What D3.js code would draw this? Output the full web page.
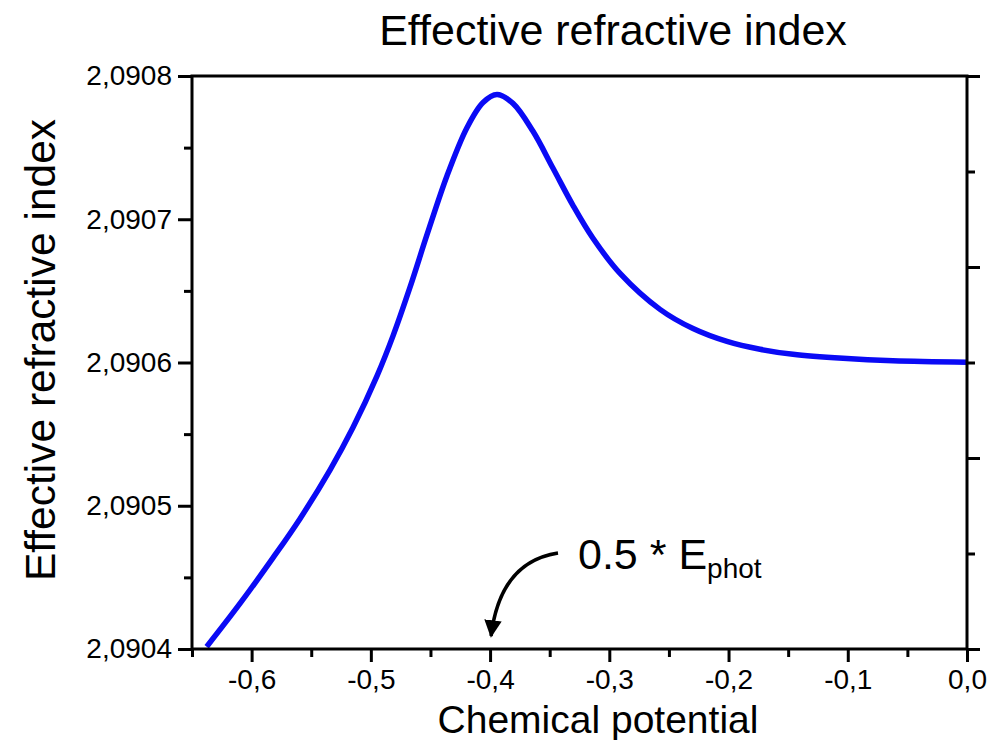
<!DOCTYPE html>
<html>
<head>
<meta charset="utf-8">
<script src="https://cdn.jsdelivr.net/npm/d3@7"></script>
<style>
  body { margin: 0; background: #fff; }
  svg { font-family: "Liberation Sans", Arial, sans-serif; }
</style>
</head>
<body>
<svg id="chart" width="990" height="740"></svg>
<script>
// values
const potential = [-0.6377, -0.6097, -0.5821, -0.5594, -0.5343, -0.5150, -0.4948, -0.4814, -0.4672, -0.4529,
  -0.4361, -0.4194, -0.4059, -0.3942, -0.3808, -0.3640, -0.3472, -0.3305, -0.3137, -0.2910,
  -0.2575, -0.2298, -0.2013, -0.1736, -0.1459, -0.1040, -0.0621, 0.0];
const index = [2.0904016, 2.0904318, 2.0904636, 2.0904910, 2.0905249, 2.0905546, 2.0905907, 2.0906186, 2.0906524, 2.0906892,
  2.0907304, 2.0907639, 2.0907815, 2.0907871, 2.0907809, 2.0907614, 2.0907356, 2.0907097, 2.0906867, 2.0906622,
  2.0906371, 2.0906237, 2.0906147, 2.0906092, 2.0906057, 2.0906029, 2.0906012, 2.0906002];
const xMajor = [-0.6, -0.5, -0.4, -0.3, -0.2, -0.1, 0.0];
const xMinor = [-0.65, -0.55, -0.45, -0.35, -0.25, -0.15, -0.05];
const yMajor = [2.0904, 2.0905, 2.0906, 2.0907, 2.0908];
const yMinor = [2.09045, 2.09055, 2.09065, 2.09075];

const margin = {top: 76, right: 23, bottom: 91, left: 192};
const width = 990 - margin.left - margin.right,
      height = 740 - margin.top - margin.bottom;

const svg = d3.select("#chart");
const g = svg.append("g").attr("transform", `translate(${margin.left},${margin.top})`);

const x = d3.scaleLinear().domain([-0.65, 0]).range([0, width]);
const y = d3.scaleLinear().domain([2.0904, 2.0908]).range([height, 0]);

const loc = d3.formatLocale({decimal: ",", thousands: ".", grouping: [3], currency: ["", ""], minus: "-"});
const fx = loc.format(".1f"), fy = loc.format(".4f");

g.append("clipPath").attr("id", "clip")
  .append("rect").attr("width", width).attr("height", height);

// curve
const line = d3.line()
  .x((d, i) => x(potential[i]))
  .y((d, i) => y(index[i]))
  .curve(d3.curveCatmullRom.alpha(0.5));
g.append("path")
  .datum(potential)
  .attr("clip-path", "url(#clip)")
  .attr("d", line)
  .attr("fill", "none")
  .attr("stroke", "#0a0af5")
  .attr("stroke-width", 5.5);

function styleAxis(sel) {
  sel.select(".domain").remove();
  sel.selectAll("line").attr("stroke", "#000").attr("stroke-width", 3);
  sel.selectAll("text").attr("font-size", 28).attr("fill", "#000");
}

// bottom
g.append("g").attr("transform", `translate(0,${height})`)
  .call(d3.axisBottom(x).tickValues(xMinor).tickSize(8).tickFormat(""))
  .call(styleAxis);
g.append("g").attr("transform", `translate(0,${height})`)
  .call(d3.axisBottom(x).tickValues(xMajor).tickSize(13).tickPadding(7).tickFormat(fx))
  .call(styleAxis);

// left
g.append("g")
  .call(d3.axisLeft(y).tickValues(yMinor).tickSize(8).tickFormat(""))
  .call(styleAxis);
g.append("g")
  .call(d3.axisLeft(y).tickValues(yMajor).tickSize(14).tickPadding(6).tickFormat(fy))
  .call(styleAxis);

// right: six divisions, major every other
const ySpan = y.domain()[1] - y.domain()[0];
const rightTicks = d3.range(7).map(i => y.domain()[0] + i * ySpan / 6);
g.append("g").attr("transform", `translate(${width},0)`)
  .call(d3.axisRight(y).tickValues(rightTicks.filter((d, i) => i % 2 === 1)).tickSize(8).tickFormat(""))
  .call(styleAxis);
g.append("g").attr("transform", `translate(${width},0)`)
  .call(d3.axisRight(y).tickValues(rightTicks.filter((d, i) => i % 2 === 0)).tickSize(13).tickFormat(""))
  .call(styleAxis);

// frame
g.append("rect")
  .attr("width", width).attr("height", height)
  .attr("fill", "none").attr("stroke", "#000").attr("stroke-width", 3);

// titles
svg.append("text")
  .attr("x", 613).attr("y", 45)
  .attr("text-anchor", "middle").attr("font-size", 43)
  .text("Effective refractive index");
svg.append("text")
  .attr("transform", "translate(55,350) rotate(-90)")
  .attr("text-anchor", "middle").attr("font-size", 42.5)
  .text("Effective refractive index");
svg.append("text")
  .attr("x", 598).attr("y", 733)
  .attr("text-anchor", "middle").attr("font-size", 39)
  .text("Chemical potential");

// annotation
const note = svg.append("text").attr("x", 578).attr("y", 569).attr("font-size", 43);
note.append("tspan").text("0.5 * E");
note.append("tspan").attr("font-size", 28).attr("dy", 9).text("phot");

svg.append("defs").append("marker")
  .attr("id", "head").attr("viewBox", "0 0 10 10")
  .attr("refX", 9).attr("refY", 5)
  .attr("markerWidth", 5).attr("markerHeight", 5)
  .attr("markerUnits", "strokeWidth")
  .attr("orient", "auto")
  .append("path").attr("d", "M0,0 L10,5 L0,10 z").attr("fill", "#000");

const ax = x(-0.4) + margin.left;
svg.append("path")
  .attr("d", `M558,553 Q${ax + 10},562 ${ax + 1},636`)
  .attr("fill", "none").attr("stroke", "#000").attr("stroke-width", 3.5)
  .attr("marker-end", "url(#head)");
</script>
</body>
</html>
